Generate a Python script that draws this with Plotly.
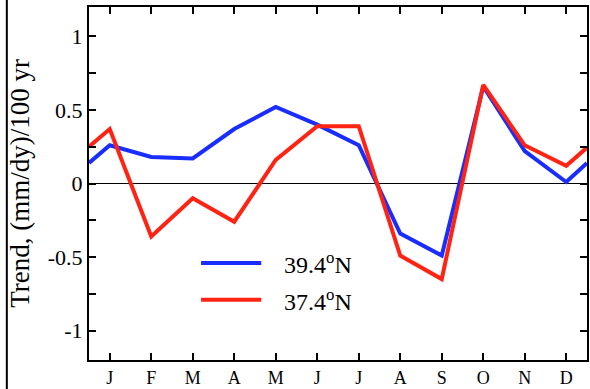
import plotly.graph_objects as go

# month positions: 0.5 and 12.5 are the wrap-around edge values
x_pos = [0.5, 1, 2, 3, 4, 5, 6, 7, 8, 9, 10, 11, 12, 12.5]
month_labels = ["J", "F", "M", "A", "M", "J", "J", "A", "S", "O", "N", "D"]
blue_39N = [0.14, 0.26, 0.18, 0.17, 0.37, 0.52, 0.40, 0.26, -0.34, -0.49, 0.66, 0.22, 0.01, 0.14]
red_37N = [0.25, 0.37, -0.36, -0.10, -0.26, 0.16, 0.39, 0.39, -0.49, -0.65, 0.67, 0.26, 0.12, 0.245]
y_tickvals = [-1, -0.75, -0.5, -0.25, 0, 0.25, 0.5, 0.75, 1]
y_ticktext = ["-1", "", "-0.5", "", "0", "", "0.5", "", "1"]

BLUE = "rgb(25,45,255)"
RED = "rgb(255,35,20)"
FONT = "Liberation Serif, Times New Roman, serif"

fig = go.Figure()
fig.add_trace(go.Scatter(x=x_pos, y=blue_39N, mode="lines",
                         line=dict(color=BLUE, width=4), name="39.4°N"))
fig.add_trace(go.Scatter(x=x_pos, y=red_37N, mode="lines",
                         line=dict(color=RED, width=4), name="37.4°N"))

fig.update_layout(
    width=590, height=389,
    margin=dict(l=89, r=3, t=7, b=29),
    paper_bgcolor="white", plot_bgcolor="white",
    showlegend=False,
    font=dict(family=FONT, color="black"),
    xaxis=dict(range=[0.5, 12.5], tickvals=list(range(1, 13)), ticktext=month_labels,
               ticks="inside", ticklen=7, tickwidth=2, tickcolor="black",
               showline=True, linecolor="black", linewidth=2, mirror="ticks",
               showgrid=False, zeroline=False, automargin=False,
               tickfont=dict(size=18, family=FONT)),
    yaxis=dict(range=[-1.2, 1.2], tickvals=y_tickvals, ticktext=y_ticktext,
               ticks="inside", ticklen=7, tickwidth=2, tickcolor="black",
               showline=True, linecolor="black", linewidth=2, mirror="ticks",
               showgrid=False, zeroline=True, zerolinecolor="black", zerolinewidth=1,
               automargin=False, tickfont=dict(size=22, family=FONT),
               title=dict(text="Trend, (mm/dy)/100 yr", font=dict(size=27, family=FONT),
                          standoff=10)),
)

# legend samples
for label, col, yv in [("39.4<sup>o</sup>N", BLUE, -0.54), ("37.4<sup>o</sup>N", RED, -0.79)]:
    fig.add_shape(type="line", xref="x", yref="y", x0=3.2, x1=4.65, y0=yv, y1=yv,
                  line=dict(color=col, width=4))
    fig.add_annotation(xref="x", yref="y", x=5.15, y=yv, text=label, showarrow=False,
                       xanchor="left", yanchor="middle", font=dict(size=24, family=FONT))

# left border line of the figure
fig.add_shape(type="line", xref="paper", yref="paper", x0=-0.165, x1=-0.165, y0=-0.1, y1=1.05,
              line=dict(color="black", width=2))

fig.write_html("out.html", config={"displayModeBar": False},
               post_script="document.body.style.margin='0';document.body.style.padding='0';")
